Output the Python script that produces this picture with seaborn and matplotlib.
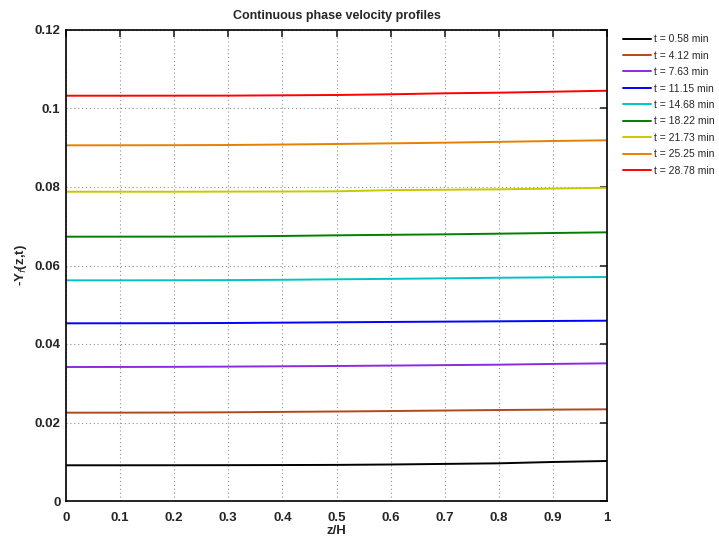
import numpy as np
import pandas as pd
import matplotlib
matplotlib.use("Agg")
import matplotlib.pyplot as plt
import seaborn as sns

z = [0.0, 0.1, 0.2, 0.3, 0.4, 0.5, 0.6, 0.7, 0.8, 0.9, 1.0]
labels = ["t = 0.58 min", "t = 4.12 min", "t = 7.63 min", "t = 11.15 min",
          "t = 14.68 min", "t = 18.22 min", "t = 21.73 min", "t = 25.25 min",
          "t = 28.78 min"]
v_058 = [0.0091, 0.0091, 0.00911, 0.00913, 0.00916, 0.0092, 0.0093, 0.00945, 0.0096, 0.00994, 0.01019]
v_412 = [0.0225, 0.02251, 0.02254, 0.0226, 0.0227, 0.0228, 0.02292, 0.02305, 0.02318, 0.02328, 0.02336]
v_763 = [0.03414, 0.03415, 0.03418, 0.03424, 0.03432, 0.0344, 0.0345, 0.03462, 0.03473, 0.03492, 0.03508]
v_1115 = [0.04527, 0.04528, 0.0453, 0.04535, 0.04544, 0.04553, 0.04562, 0.0457, 0.04578, 0.04587, 0.04594]
v_1468 = [0.05622, 0.05622, 0.05624, 0.05628, 0.05636, 0.05648, 0.0566, 0.05673, 0.05688, 0.05698, 0.05707]
v_1822 = [0.06734, 0.06735, 0.06736, 0.0674, 0.06752, 0.06769, 0.06782, 0.06794, 0.06811, 0.06828, 0.06845]
v_2173 = [0.0788, 0.0788, 0.0788, 0.07883, 0.07885, 0.0789, 0.0792, 0.0793, 0.0794, 0.0796, 0.0798]
v_2525 = [0.09062, 0.09063, 0.09065, 0.0907, 0.09082, 0.09096, 0.09112, 0.09129, 0.0915, 0.09172, 0.0919]
v_2878 = [0.10326, 0.10326, 0.10327, 0.10328, 0.10336, 0.10344, 0.10362, 0.10387, 0.10403, 0.10428, 0.10453]
series = [v_058, v_412, v_763, v_1115, v_1468, v_1822, v_2173, v_2525, v_2878]
colors = ["#000000", "#b04a1a", "#8a2be2", "#0000ff", "#00c4c4", "#008000",
          "#c8c800", "#e68000", "#ff0000"]

rows = []
for lab, vals in zip(labels, series):
    for zz, vv in zip(z, vals):
        rows.append({"z": zz, "v": vv, "t": lab})
df = pd.DataFrame(rows)

sns.set_style("white")
plt.rcParams["font.family"] = ["Liberation Sans", "DejaVu Sans"]

fig = plt.figure(figsize=(7.19, 5.43), dpi=100)
ax = fig.add_axes([66 / 719, 42 / 543, 541 / 719, 471 / 543])
sns.lineplot(data=df, x="z", y="v", hue="t", hue_order=labels,
             palette=colors, linewidth=1.4, ax=ax, legend=True)

ax.set_xlim(0, 1)
ax.set_ylim(0, 0.12)
ax.set_xticks(np.arange(0, 1.01, 0.1))
ax.set_xticklabels(["0", "0.1", "0.2", "0.3", "0.4", "0.5", "0.6", "0.7", "0.8", "0.9", "1"])
ax.set_yticks([0, 0.02, 0.04, 0.06, 0.08, 0.1, 0.12])
ax.set_yticklabels(["0", "0.02", "0.04", "0.06", "0.08", "0.1", "0.12"])
ax.grid(True, linestyle=(0, (1, 2.5)), color="#909090", linewidth=0.8)
ax.tick_params(direction="in", top=True, right=True, length=5, width=1.2,
               labelsize=9.5)
ax.tick_params(axis="x", pad=8)
ax.tick_params(axis="y", pad=4)
for lbl in ax.get_xticklabels() + ax.get_yticklabels():
    lbl.set_fontweight("bold")
for s in ax.spines.values():
    s.set_color("black")
    s.set_linewidth(1.2)

ax.set_title("Continuous phase velocity profiles", fontsize=9, fontweight="bold", pad=8)
ax.set_xlabel("z/H", fontsize=9.5, fontweight="bold", labelpad=1)
ax.set_ylabel("-Υ$_f$(z,t)", fontsize=9.5, fontweight="bold", labelpad=4)

leg = ax.legend(loc="upper left", bbox_to_anchor=(619 / 719, 1 - 30 / 543),
                bbox_transform=fig.transFigure, frameon=False, fontsize=7.5,
                handlelength=2.7, handletextpad=0.3, labelspacing=0.62,
                borderaxespad=0, title=None)

fig.savefig("out.png", dpi=100)
